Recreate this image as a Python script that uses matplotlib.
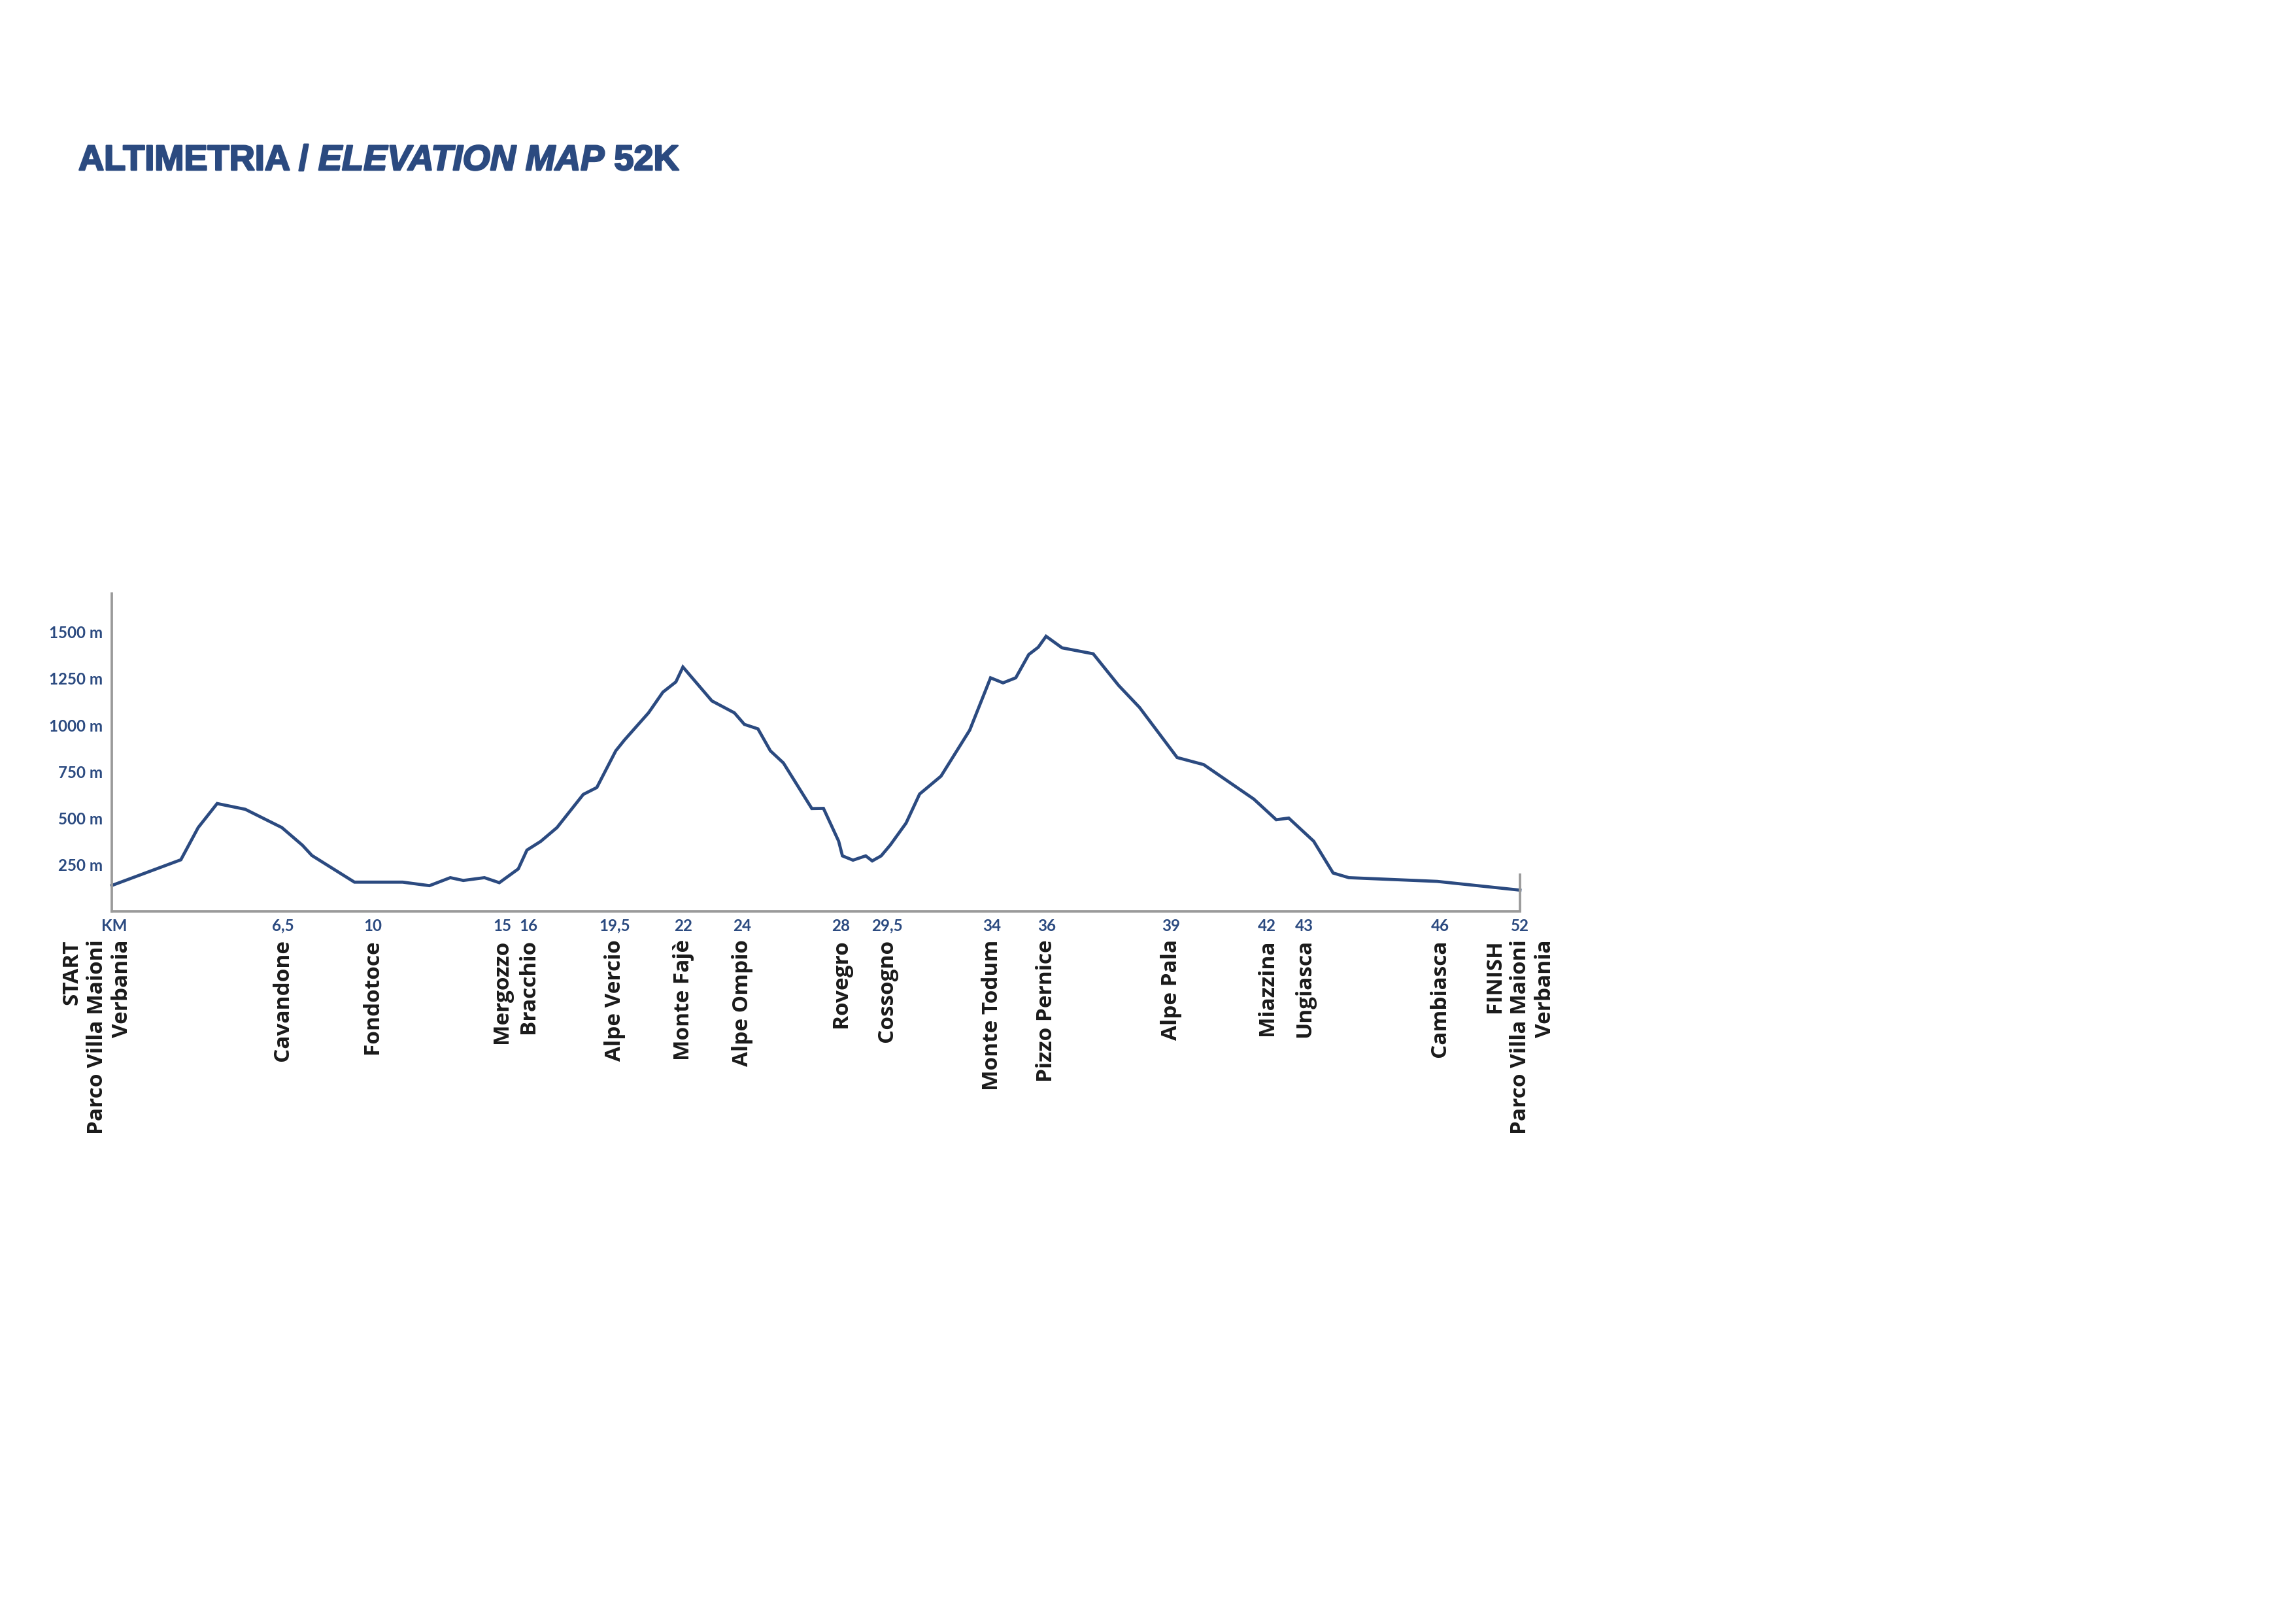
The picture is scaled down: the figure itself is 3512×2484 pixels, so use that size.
import matplotlib
matplotlib.use("Agg")
import matplotlib.pyplot as plt
import matplotlib.patheffects as pe

# profile drawn along the chart's own horizontal scale (0 .. 52), elevation in m
profile_x = [0.0, 2.55, 3.19, 3.89, 4.93, 6.28, 7.04, 7.39, 8.96, 10.74,
             11.73, 12.50, 12.98, 13.76, 14.31, 15.01, 15.33, 15.84, 16.44, 17.41,
             17.91, 18.61, 18.93, 19.82, 20.35, 20.83, 21.09, 22.16, 22.99, 23.36,
             23.86, 24.32, 24.80, 25.85, 26.28, 26.84, 26.98, 27.37, 27.84, 28.08,
             28.41, 28.75, 29.33, 29.83, 30.62, 31.68, 32.45, 32.91, 33.38, 33.86,
             34.21, 34.50, 35.09, 36.24, 37.18, 37.95, 39.34, 40.32, 42.17, 43.00,
             43.46, 44.38, 45.10, 45.68, 48.94, 52.0]
elevation = [139, 277, 450, 579, 548, 450, 355, 300, 157, 157,
             138, 181, 166, 181, 154, 228, 329, 376, 450, 628,
             665, 862, 920, 1066, 1177, 1232, 1312, 1130, 1066, 1004,
             980, 862, 797, 552, 553, 377, 298, 275, 298, 271,
             298, 357, 474, 630, 726, 973, 1254, 1227, 1254, 1379,
             1418, 1477, 1415, 1383, 1213, 1095, 826, 788, 603, 492,
             501, 377, 206, 181, 161, 114]

km_pos = [0.1, 6.32, 9.63, 14.41, 15.38, 18.57, 21.10, 23.28, 26.92, 28.63,
          32.51, 34.52, 39.11, 42.66, 44.04, 49.04, 52.0]
km_labels = ["KM", "6,5", "10", "15", "16", "19,5", "22", "24", "28", "29,5",
             "34", "36", "39", "42", "43", "46", "52"]
places = ["START\nParco Villa Maioni\nVerbania", "Cavandone", "Fondotoce",
          "Mergozzo", "Bracchio", "Alpe Vercio", "Monte Fajè", "Alpe Ompio",
          "Rovegro", "Cossogno", "Monte Todum", "Pizzo Pernice", "Alpe Pala",
          "Miazzina", "Ungiasca", "Cambiasca", "FINISH\nParco Villa Maioni\nVerbania"]

elev_ticks = [250, 500, 750, 1000, 1250, 1500]
finish_marker = 204

BLUE = "#2b4a80"
GREY = "#9a9a9a"
W, H = 3512, 2484

fig = plt.figure(figsize=(W / 300, H / 300), dpi=300)
ax = fig.add_axes([171 / W, 1 - 1394 / H, (2325 - 171) / W, (1394 - 908) / H])

ax.plot(profile_x, elevation, color=BLUE, lw=1.15, clip_on=False,
        solid_joinstyle="miter")
ax.vlines(52, 0, finish_marker, color=GREY, lw=0.9, clip_on=False)

ax.set_xlim(0, 52)
ax.set_ylim(0, 1706)
for s in ["top", "right"]:
    ax.spines[s].set_visible(False)
for s in ["left", "bottom"]:
    ax.spines[s].set_color(GREY)
    ax.spines[s].set_linewidth(0.9)

ax.set_yticks(elev_ticks, [f"{v} m" for v in elev_ticks])
ax.set_xticks(km_pos, km_labels)
ax.tick_params(axis="y", length=0, pad=3.4, labelsize=5.8, labelcolor=BLUE)
ax.tick_params(axis="x", length=0, pad=2.6, labelsize=5.8, labelcolor=BLUE)
for lbl in ax.get_xticklabels() + ax.get_yticklabels():
    lbl.set_fontweight("bold")
    lbl.set_family(["Liberation Sans Narrow", "Lato"])

# place names under the km marks (start block sits a little left of its mark)
for i, (x, name) in enumerate(zip(km_pos, places)):
    dx = -6.5 if i == 0 else 0
    ax.annotate(name, xy=(x, 0), xycoords=("data", "axes fraction"),
                xytext=(dx, -10.4), textcoords="offset points",
                rotation=90, ha="center", va="top", multialignment="right",
                fontsize=8, weight="bold", family="Open Sans",
                color="#1a1a1a", linespacing=1.22, annotation_clip=False)

# title in three pieces (upright / italic / upright)
tstyle = dict(fontsize=13, weight="bold", family="Liberation Sans", color=BLUE,
              path_effects=[pe.withStroke(linewidth=0.6, foreground=BLUE)])
t1 = ax.annotate("ALTIMETRIA / ", xy=(120 / W, 1 - 260 / H),
                 xycoords="figure fraction", va="baseline", ha="left", **tstyle)
t2 = ax.annotate("ELEVATION MAP", xy=(1, 0), xycoords=t1, va="bottom",
                 ha="left", style="italic", **tstyle)
ax.annotate(" 52K", xy=(1, 0), xycoords=t2, va="bottom", ha="left", **tstyle)

fig.savefig("out.png", dpi=300)
